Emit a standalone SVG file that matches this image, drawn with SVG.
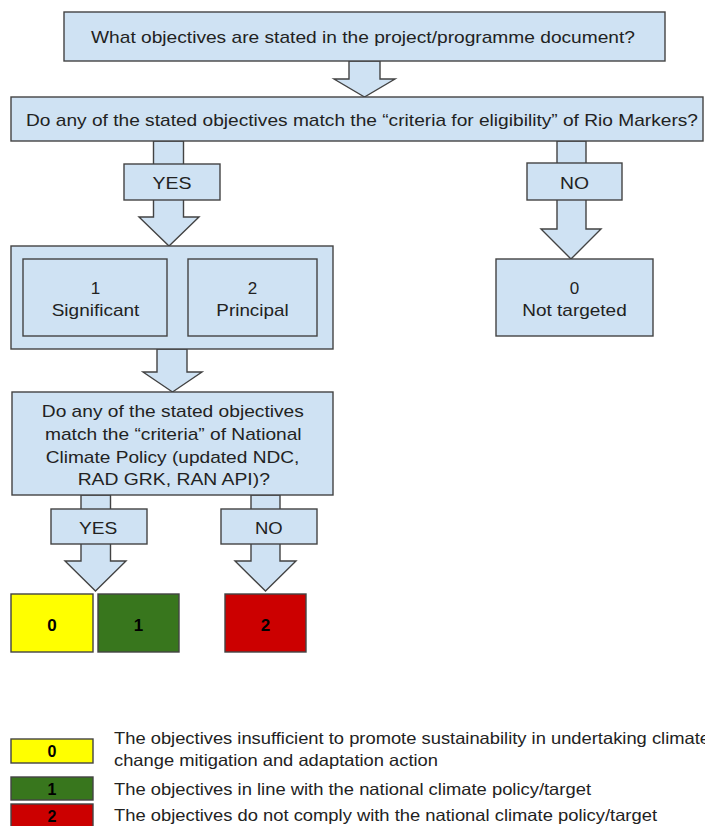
<svg xmlns="http://www.w3.org/2000/svg" width="705" height="826" viewBox="0 0 705 826">
<style>
  .bx { fill: #cfe2f3; stroke: #434343; stroke-width: 1.4; }
  .ar { fill: #cfe2f3; stroke: #434343; stroke-width: 1.4; stroke-linejoin: miter; }
  .t { font-family: "Liberation Sans", Arial, sans-serif; font-size: 17px; fill: #222; text-anchor: middle; }
  .lt { font-family: "Liberation Sans", Arial, sans-serif; font-size: 16.5px; fill: #222; }
  .n { font-family: "Liberation Sans", Arial, sans-serif; font-size: 17px; font-weight: bold; fill: #000; text-anchor: middle; }
  .ln { font-family: "Liberation Sans", Arial, sans-serif; font-size: 16px; font-weight: bold; fill: #000; text-anchor: middle; }
  .y { fill: #ffff00; stroke: #434343; stroke-width: 1.4; }
  .g { fill: #38761d; stroke: #434343; stroke-width: 1.4; }
  .r { fill: #cc0000; stroke: #434343; stroke-width: 1.4; }
</style>
<rect width="705" height="826" fill="#ffffff"/>

<g id="connectors">
  <polygon class="ar" points="349,61 380,61 380,79 395,79 364.5,97 334,79 349,79"/>
  <polygon class="ar" points="153.5,141 183.5,141 183.5,217 199,217 169,246 139,217 153.5,217"/>
  <polygon class="ar" points="557,141 586,141 586,229 601,229 571,259 541,229 557,229"/>
  <polygon class="ar" points="157,349 187,349 187,372 202,372 172.5,392 143,372 157,372"/>
  <polygon class="ar" points="81,495 110.5,495 110.5,561 126,561 95.5,591 65,561 81,561"/>
  <polygon class="ar" points="251,495 280,495 280,561 296,561 265.5,591 235,561 251,561"/>
</g>

<g id="q1">
  <rect class="bx" x="64" y="12" width="601" height="49"/>
  <text class="t" x="363" y="43" textLength="544" lengthAdjust="spacingAndGlyphs">What objectives are stated in the project/programme document?</text>
</g>

<g id="q2">
  <rect class="bx" x="11" y="97" width="692" height="44"/>
  <text class="t" x="362" y="126" textLength="672" lengthAdjust="spacingAndGlyphs">Do any of the stated objectives match the “criteria for eligibility” of Rio Markers?</text>
</g>

<g id="yes1">
  <rect class="bx" x="124" y="164" width="96" height="36"/>
  <text class="t" x="172" y="189" textLength="39" lengthAdjust="spacingAndGlyphs">YES</text>
</g>

<g id="no1">
  <rect class="bx" x="527" y="163" width="95" height="37"/>
  <text class="t" x="574.5" y="189" textLength="29" lengthAdjust="spacingAndGlyphs">NO</text>
</g>

<g id="group12">
  <rect class="bx" x="11" y="246" width="322" height="103"/>
</g>

<g id="significant">
  <rect class="bx" x="23" y="259" width="144" height="77"/>
  <text class="t" x="95.5" y="294">1</text>
  <text class="t" x="95.5" y="316" textLength="87.6" lengthAdjust="spacingAndGlyphs">Significant</text>
</g>

<g id="principal">
  <rect class="bx" x="188" y="259" width="129" height="77"/>
  <text class="t" x="252.5" y="294">2</text>
  <text class="t" x="252.5" y="316" textLength="72.3" lengthAdjust="spacingAndGlyphs">Principal</text>
</g>

<g id="not-targeted">
  <rect class="bx" x="496" y="259" width="157" height="77"/>
  <text class="t" x="574.5" y="294">0</text>
  <text class="t" x="574.5" y="316" textLength="104.4" lengthAdjust="spacingAndGlyphs">Not targeted</text>
</g>

<g id="q3">
  <rect class="bx" x="12" y="392" width="321" height="103"/>
  <text class="t" x="172.8" y="417" textLength="262" lengthAdjust="spacingAndGlyphs">Do any of the stated objectives</text>
  <text class="t" x="173.3" y="440" textLength="256.7" lengthAdjust="spacingAndGlyphs">match the “criteria” of National</text>
  <text class="t" x="172.5" y="462.5" textLength="253.7" lengthAdjust="spacingAndGlyphs">Climate Policy (updated NDC,</text>
  <text class="t" x="173.8" y="485" textLength="192.3" lengthAdjust="spacingAndGlyphs">RAD GRK, RAN API)?</text>
</g>

<g id="yes2">
  <rect class="bx" x="51" y="509" width="96" height="35"/>
  <text class="t" x="98.2" y="534" textLength="38.3" lengthAdjust="spacingAndGlyphs">YES</text>
</g>

<g id="no2">
  <rect class="bx" x="221" y="509" width="96" height="35"/>
  <text class="t" x="268.8" y="534" textLength="27.7" lengthAdjust="spacingAndGlyphs">NO</text>
</g>

<g id="score0">
  <rect class="y" x="11" y="594" width="82" height="58"/>
  <text class="n" x="52" y="630.5">0</text>
</g>
<g id="score1">
  <rect class="g" x="98" y="594" width="81" height="58"/>
  <text class="n" x="138.5" y="630.5">1</text>
</g>
<g id="score2">
  <rect class="r" x="225" y="594" width="81" height="58"/>
  <text class="n" x="265.5" y="630.5">2</text>
</g>

<g id="legend">
  <rect class="y" x="11" y="739" width="82" height="24"/>
  <text class="ln" x="52" y="757">0</text>
  <rect class="g" x="11" y="777" width="82" height="23"/>
  <text class="ln" x="52" y="794.5">1</text>
  <rect class="r" x="11" y="804" width="82" height="24"/>
  <text class="ln" x="52" y="821.5">2</text>
  <text class="lt" x="114" y="744" textLength="596" lengthAdjust="spacingAndGlyphs">The objectives insufficient to promote sustainability in undertaking climate</text>
  <text class="lt" x="114" y="766" textLength="324" lengthAdjust="spacingAndGlyphs">change mitigation and adaptation action</text>
  <text class="lt" x="114" y="795" textLength="477" lengthAdjust="spacingAndGlyphs">The objectives in line with the national climate policy/target</text>
  <text class="lt" x="114" y="821" textLength="543" lengthAdjust="spacingAndGlyphs">The objectives do not comply with the national climate policy/target</text>
</g>
</svg>
